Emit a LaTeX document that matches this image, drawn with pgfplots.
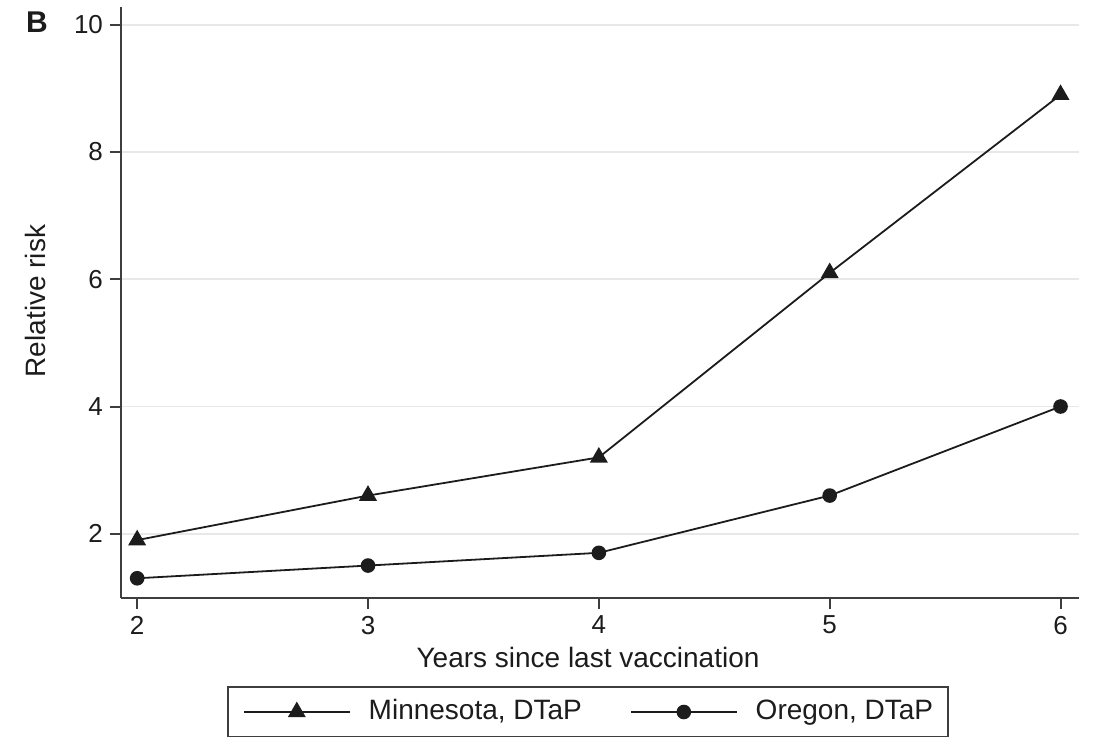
\documentclass[border=0pt]{standalone}
\usepackage{pgfplots}
\pgfplotsset{compat=1.18}
\usepackage{fontspec}
\setmainfont{Liberation Sans}

\definecolor{inkc}{HTML}{1C1C1C}
\definecolor{gridc}{HTML}{E8E8E8}

\begin{document}
\begin{tikzpicture}
\begin{axis}[
  name=ax,
  width=479pt, height=295.5pt,
  scale only axis,
  xmin=1.93, xmax=6.08,
  ymin=0.99, ymax=10.28,
  axis x line=bottom, axis y line=left,
  axis line style={-, line width=1pt, draw=inkc!85},
  xtick={2,3,4,5,6}, ytick={2,4,6,8,10},
  tick align=outside,
  major tick length=5.5pt,
  tick style={line width=1pt, draw=inkc!85},
  ymajorgrids,
  grid style={line width=0.9pt, draw=gridc},
  /pgf/number format/assume math mode=true,
  ticklabel style={font=\fontsize{13}{15}\selectfont, text=inkc},
  xlabel={Years since last vaccination},
  ylabel={Relative risk},
  label style={font=\fontsize{14}{16}\selectfont, text=inkc},
  xlabel style={at={(axis description cs:0.4875,0)}, anchor=center, yshift=-29.5pt},
  ylabel style={at={(axis description cs:0,0.5025)}, anchor=center, yshift=43pt},
  legend columns=2,
  legend image code/.code={\draw[mark repeat=2,mark phase=2] plot coordinates {(0pt,0pt)(26.5pt,0pt)(53pt,0pt)};},
  legend style={
    at={(axis description cs:0.4875,-0.1929)}, anchor=center,
    draw=inkc!85, line width=0.9pt,
    font=\fontsize{14}{16}\selectfont, text=inkc,
    inner xsep=7.5pt, inner ysep=6pt,
    nodes={inner sep=0pt, text height=10pt, text depth=3pt},
    /tikz/every odd column/.append style={column sep=9pt},
    /tikz/every even column/.append style={column sep=24pt},
  },
  legend cell align=left,
]
\addplot[inkc, line width=0.9pt, mark=triangle*, mark size=4.3pt, mark options={solid, fill=inkc}]
  coordinates {(2,1.9) (3,2.6) (4,3.2) (5,6.1) (6,8.9)};
\addlegendentry{Minnesota, DTaP}
\addplot[inkc, line width=0.9pt, mark=*, mark size=3.2pt, mark options={solid, fill=inkc}]
  coordinates {(2,1.3) (3,1.5) (4,1.7) (5,2.6) (6,4.0)};
\addlegendentry{Oregon, DTaP}
\end{axis}
\node[font=\bfseries\fontsize{15}{17}\selectfont, text=inkc] at ([shift={(-42pt,-7.5pt)}]ax.north west) {B};
\pgfresetboundingbox
\path ([shift={(-60.5pt,-69.5pt)}]ax.south west) rectangle ([shift={(8.5pt,3.5pt)}]ax.north east);
\end{tikzpicture}
\end{document}
